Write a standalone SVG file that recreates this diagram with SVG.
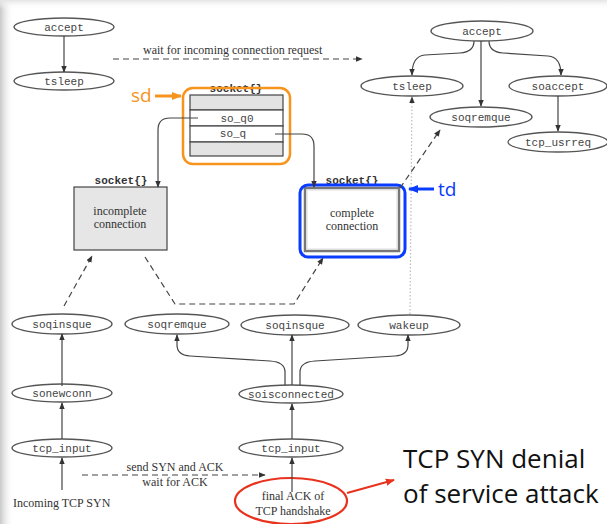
<svg xmlns="http://www.w3.org/2000/svg" width="607" height="524" viewBox="0 0 607 524">
<style>
.node ellipse{fill:#fff;stroke:#555;stroke-width:1.3}
.lbl{font-family:"Liberation Mono",monospace;font-size:11px;fill:#444;text-anchor:middle}
.blbl{font-family:"Liberation Mono",monospace;font-size:11px;font-weight:bold;fill:#333;text-anchor:middle}
.serif{font-family:"Liberation Serif",serif;font-size:12px;fill:#333}
.c{text-anchor:middle}
.edge{fill:none;stroke:#444;stroke-width:1.2}
.dash{fill:none;stroke:#444;stroke-width:1.2;stroke-dasharray:6,4}
.dot{fill:none;stroke:#bbb;stroke-width:1.2;stroke-dasharray:1.5,2}
.big{font-family:"Open Sans","Noto Sans",sans-serif;font-size:26px;fill:#111}
</style>
<defs>
<marker id="ah" viewBox="0 0 10 10" refX="9" refY="5" markerWidth="7" markerHeight="7" orient="auto" markerUnits="userSpaceOnUse">
<path d="M0,1 L10,5 L0,9 Z" fill="#333"/>
</marker>
<marker id="ahr" viewBox="0 0 10 10" refX="9" refY="5" markerWidth="9" markerHeight="9" orient="auto" markerUnits="userSpaceOnUse">
<path d="M0,1 L10,5 L0,9 Z" fill="#e8321e"/>
</marker>
<marker id="aho" viewBox="0 0 10 10" refX="9" refY="5" markerWidth="10" markerHeight="10" orient="auto" markerUnits="userSpaceOnUse">
<path d="M0,1 L10,5 L0,9 Z" fill="#f7941d"/>
</marker>
<marker id="ahb" viewBox="0 0 10 10" refX="9" refY="5" markerWidth="10" markerHeight="10" orient="auto" markerUnits="userSpaceOnUse">
<path d="M0,1 L10,5 L0,9 Z" fill="#0a3cff"/>
</marker>
<linearGradient id="lm" x1="0" x2="1" y1="0" y2="0">
<stop offset="0" stop-color="#c8c8c8"/><stop offset="1" stop-color="#fff" stop-opacity="0"/>
</linearGradient>
<linearGradient id="tm" x1="0" x2="0" y1="0" y2="1">
<stop offset="0" stop-color="#e4e4e4"/><stop offset="1" stop-color="#fff" stop-opacity="0"/>
</linearGradient>
</defs>
<rect width="607" height="524" fill="#fff"/>
<rect x="0" y="0" width="14" height="524" fill="url(#lm)"/>
<rect x="0" y="0" width="607" height="9" fill="url(#tm)"/>

<text class="serif" x="143" y="54" font-size="12.5">wait for incoming connection request</text>
<text class="serif c" x="175" y="471">send SYN and ACK</text>
<text class="serif c" x="175" y="486">wait for ACK</text>

<g id="accept-l" class="node"><ellipse cx="64" cy="27" rx="50" ry="9"/><text class="lbl" x="64" y="31">accept</text></g>
<g id="tsleep-l" class="node"><ellipse cx="64" cy="81" rx="50" ry="9"/><text class="lbl" x="64" y="85">tsleep</text></g>

<g id="socket-sd">
<text class="blbl" x="236" y="92">socket{}</text>
<rect x="190" y="95" width="93" height="15" fill="#e3e3e3" stroke="#444" stroke-width="1.2"/>
<rect x="190" y="110" width="93" height="16" fill="#fff" stroke="#444" stroke-width="1.2"/>
<rect x="190" y="126" width="93" height="16" fill="#fff" stroke="#444" stroke-width="1.2"/>
<rect x="190" y="142" width="93" height="14" fill="#e3e3e3" stroke="#444" stroke-width="1.2"/>
<text class="lbl" x="237" y="122">so_q0</text>
<text class="lbl" x="233" y="137">so_q</text>
<rect x="183" y="88" width="107" height="76" rx="10" fill="none" stroke="#f7941d" stroke-width="2.5"/>
<text x="131" y="102" font-family="Open Sans,Noto Sans,sans-serif" font-size="19" fill="#f7941d">sd</text>
</g>

<g id="socket-incomplete">
<text class="blbl" x="121" y="184">socket{}</text>
<rect x="74" y="187" width="93" height="63" fill="#e6e6e6" stroke="#444" stroke-width="1.2"/>
<text class="serif c" x="120" y="215">incomplete</text>
<text class="serif c" x="120" y="228">connection</text>
</g>

<g id="socket-complete">
<text class="blbl" x="352" y="184">socket{}</text>
<rect x="305" y="188" width="94" height="63" fill="#fff" stroke="#777" stroke-width="2.5"/>
<rect x="307" y="190" width="90" height="59" fill="none" stroke="#ddd" stroke-width="1"/>
<text class="serif c" x="352" y="217">complete</text>
<text class="serif c" x="352" y="230">connection</text>
<rect x="300" y="185" width="105" height="72" rx="8" fill="none" stroke="#0a3cff" stroke-width="3"/>
<text x="438" y="196" font-family="Open Sans,Noto Sans,sans-serif" font-size="19" fill="#0a3cff">td</text>
</g>

<g id="accept-r" class="node"><ellipse cx="482" cy="31" rx="51" ry="10"/><text class="lbl" x="482" y="35">accept</text></g>
<g id="tsleep-r" class="node"><ellipse cx="412" cy="86" rx="51" ry="10"/><text class="lbl" x="412" y="90">tsleep</text></g>
<g id="soqremque-r" class="node"><ellipse cx="481" cy="117" rx="51" ry="10"/><text class="lbl" x="481" y="121">soqremque</text></g>
<g id="soaccept" class="node"><ellipse cx="558" cy="86" rx="49" ry="10"/><text class="lbl" x="558" y="90">soaccept</text></g>
<g id="tcp_usrreq" class="node"><ellipse cx="558" cy="142" rx="50" ry="10"/><text class="lbl" x="558" y="146">tcp_usrreq</text></g>

<g id="soqinsque-l" class="node"><ellipse cx="62" cy="324" rx="50" ry="10"/><text class="lbl" x="62" y="328">soqinsque</text></g>
<g id="soqremque-m" class="node"><ellipse cx="177" cy="324" rx="52" ry="10"/><text class="lbl" x="177" y="328">soqremque</text></g>
<g id="soqinsque-m" class="node"><ellipse cx="295" cy="325" rx="54" ry="10"/><text class="lbl" x="295" y="329">soqinsque</text></g>
<g id="wakeup" class="node"><ellipse cx="409" cy="325" rx="51" ry="10"/><text class="lbl" x="409" y="329">wakeup</text></g>
<g id="sonewconn" class="node"><ellipse cx="62" cy="393" rx="50" ry="9"/><text class="lbl" x="62" y="397">sonewconn</text></g>
<g id="soisconnected" class="node"><ellipse cx="291" cy="394" rx="52" ry="9"/><text class="lbl" x="291" y="398">soisconnected</text></g>
<g id="tcp_input-l" class="node"><ellipse cx="62" cy="448" rx="50" ry="9"/><text class="lbl" x="62" y="452">tcp_input</text></g>
<g id="tcp_input-m" class="node"><ellipse cx="291" cy="448" rx="52" ry="9"/><text class="lbl" x="291" y="452">tcp_input</text></g>

<g id="incoming-syn"><text class="serif" x="13" y="507">Incoming TCP SYN</text></g>
<g id="final-ack">
<text class="serif c" x="293" y="500">final ACK of</text>
<text class="serif c" x="293" y="515">TCP handshake</text>
<ellipse cx="291" cy="501" rx="56" ry="23" fill="none" stroke="#e8321e" stroke-width="2.2"/>
</g>
<g id="callout">
<text class="big" x="403" y="468">TCP SYN denial</text>
<text class="big" x="403" y="503">of service attack</text>
</g>

<g id="connectors">
<line class="edge" x1="64" y1="36" x2="64" y2="72" marker-end="url(#ah)"/>
<line class="dash" x1="113" y1="59" x2="362" y2="59" marker-end="url(#ah)"/>
<path class="edge" d="M198,118 L170,118 Q158,118 158,130 L158,187" marker-end="url(#ah)"/>
<path class="edge" d="M275,134 L302,134 Q314,134 314,146 L314,187" marker-end="url(#ah)"/>
<path class="edge" d="M474,41 Q474,52 460,53 L425,55 Q412,56 412,75" marker-end="url(#ah)"/>
<line class="edge" x1="481" y1="41" x2="481" y2="106" marker-end="url(#ah)"/>
<path class="edge" d="M489,41 Q489,52 503,53 L548,56 Q561,57 561,75" marker-end="url(#ah)"/>
<line class="edge" x1="558" y1="96" x2="558" y2="131" marker-end="url(#ah)"/>
<line class="dot" x1="410" y1="314" x2="412" y2="97" marker-end="url(#ah)"/>
<line class="dash" x1="400" y1="188" x2="440" y2="130" marker-end="url(#ah)"/>
<line class="dash" x1="64" y1="306" x2="92" y2="256" marker-end="url(#ah)"/>
<path class="dash" d="M145,257 L175,304 L294,304 L323,258" marker-end="url(#ah)"/>
<line class="edge" x1="62" y1="386" x2="62" y2="334" marker-end="url(#ah)"/>
<line class="edge" x1="62" y1="439" x2="62" y2="403" marker-end="url(#ah)"/>
<line class="edge" x1="62" y1="490" x2="62" y2="458" marker-end="url(#ah)"/>
<path class="edge" d="M285,385 L285,372 Q285,362 270,361 L190,356 Q177,355 177,345 L177,335" marker-end="url(#ah)"/>
<line class="edge" x1="292" y1="385" x2="292" y2="335" marker-end="url(#ah)"/>
<path class="edge" d="M300,385 L300,372 Q300,362 315,361 L395,356 Q408,355 408,345 L408,335" marker-end="url(#ah)"/>
<line class="edge" x1="292" y1="439" x2="292" y2="404" marker-end="url(#ah)"/>
<line class="edge" x1="292" y1="492" x2="292" y2="458" marker-end="url(#ah)"/>
<line class="dash" x1="82" y1="475" x2="265" y2="475" marker-end="url(#ah)"/>
<line x1="347" y1="493" x2="394" y2="480" stroke="#e8321e" stroke-width="2" marker-end="url(#ahr)"/>
<line x1="155" y1="96" x2="181" y2="96" stroke="#f7941d" stroke-width="3" marker-end="url(#aho)"/>
<line x1="434" y1="189" x2="409" y2="189" stroke="#0a3cff" stroke-width="3" marker-end="url(#ahb)"/>
</g>
</svg>
